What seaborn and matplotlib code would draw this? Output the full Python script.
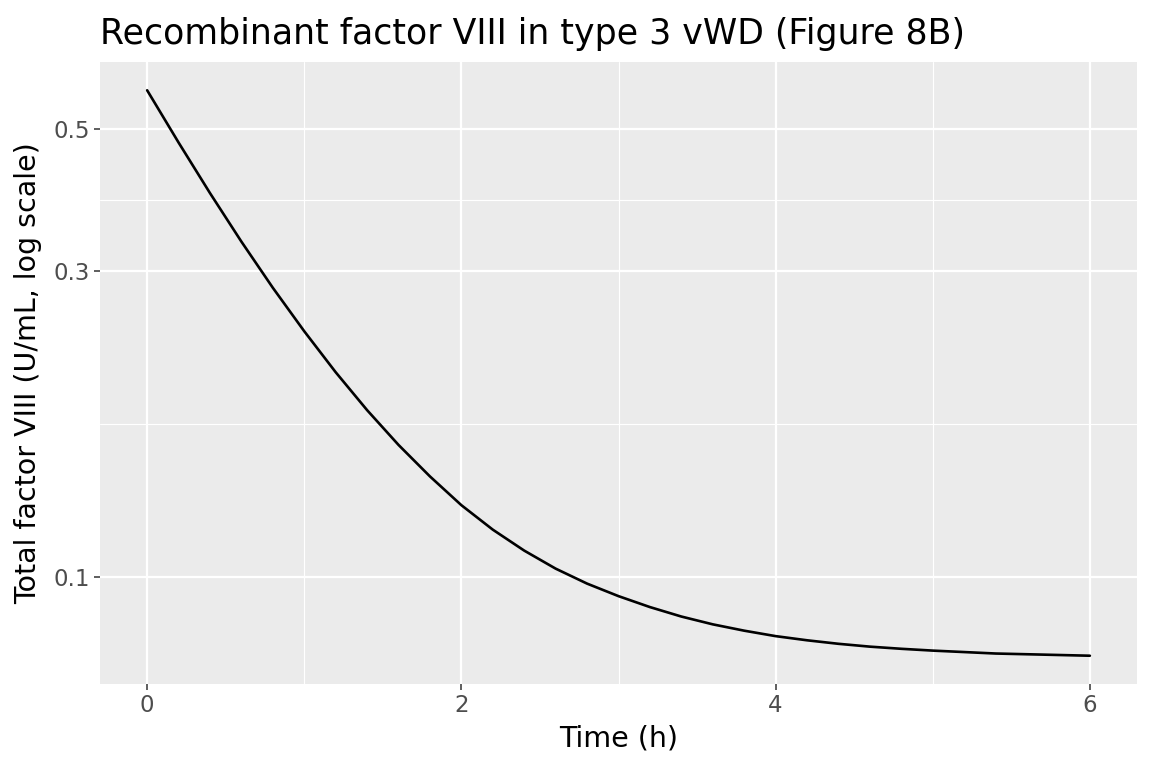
import numpy as np
import pandas as pd
import matplotlib
matplotlib.use("Agg")
import matplotlib.pyplot as plt
import matplotlib.ticker as mticker
import seaborn as sns

# Data
time_h = [0.0, 0.2, 0.4, 0.6, 0.8, 1.0, 1.2, 1.4, 1.6, 1.8, 2.0, 2.2, 2.4, 2.6,
          2.8, 3.0, 3.2, 3.4, 3.6, 3.8, 4.0, 4.2, 4.4, 4.6, 4.8, 5.0, 5.2, 5.4,
          5.6, 5.8, 6.0]
factor_viii = [0.575, 0.4766, 0.3974, 0.3338, 0.2828, 0.2419, 0.2088, 0.1822,
               0.1608, 0.1436, 0.1295, 0.1186, 0.1100, 0.1031, 0.0977, 0.0934,
               0.0898, 0.0868, 0.0844, 0.0825, 0.0809, 0.0797, 0.0787, 0.0779,
               0.0773, 0.0768, 0.0764, 0.0760, 0.0758, 0.0756, 0.0754]
y_major = [0.1, 0.3, 0.5]
y_major_labels = ["0.1", "0.3", "0.5"]
x_major = [0, 2, 4, 6]
x_minor = [1, 3, 5]

title = "Recombinant factor VIII in type 3 vWD (Figure 8B)"
xlabel = "Time (h)"
ylabel = "Total factor VIII (U/mL, log scale)"

df = pd.DataFrame({"time": time_h, "value": factor_viii})

sns.set_theme(style="darkgrid", rc={
    "axes.facecolor": "#EBEBEB",
    "grid.color": "white",
    "axes.edgecolor": "#EBEBEB",
})
plt.rcParams["font.family"] = ["DejaVu Sans"]

fig = plt.figure(figsize=(11.52, 7.68), dpi=100)
ax = fig.add_axes([100 / 1152, 1 - 684 / 768, (1137 - 100) / 1152, (684 - 62) / 768])

sns.lineplot(data=df, x="time", y="value", ax=ax, color="black", linewidth=1.9)

ax.set_yscale("log")
lo, hi = np.log10(min(factor_viii)), np.log10(max(factor_viii))
pad = 0.05 * (hi - lo)
ax.set_ylim(10 ** (lo - pad), 10 ** (hi + pad))
ax.set_xlim(-0.3, 6.3)

ax.yaxis.set_major_locator(mticker.FixedLocator(y_major))
ax.yaxis.set_major_formatter(mticker.FixedFormatter(y_major_labels))
ly = np.log10(y_major)
y_minor = [10 ** ((ly[i] + ly[i + 1]) / 2) for i in range(len(ly) - 1)]
ax.yaxis.set_minor_locator(mticker.FixedLocator(y_minor))
ax.yaxis.set_minor_formatter(mticker.NullFormatter())

ax.xaxis.set_major_locator(mticker.FixedLocator(x_major))
ax.xaxis.set_minor_locator(mticker.FixedLocator(x_minor))

ax.grid(which="major", color="white", linewidth=1.6)
ax.grid(which="minor", color="white", linewidth=0.8)
ax.set_axisbelow(True)
for s in ax.spines.values():
    s.set_visible(False)

ax.tick_params(which="major", length=4.3, width=1.1, color="#333333",
               labelcolor="#4D4D4D", labelsize=16.5, pad=3,
               bottom=True, left=True)
ax.tick_params(which="minor", length=0)

ax.set_xlabel(xlabel, fontsize=20.5, color="black", labelpad=5)
ax.set_ylabel(ylabel, fontsize=20.5, color="black", labelpad=8)
ax.set_title(title, loc="left", fontsize=25, color="black", pad=13)

fig.savefig("out.png", dpi=100)
